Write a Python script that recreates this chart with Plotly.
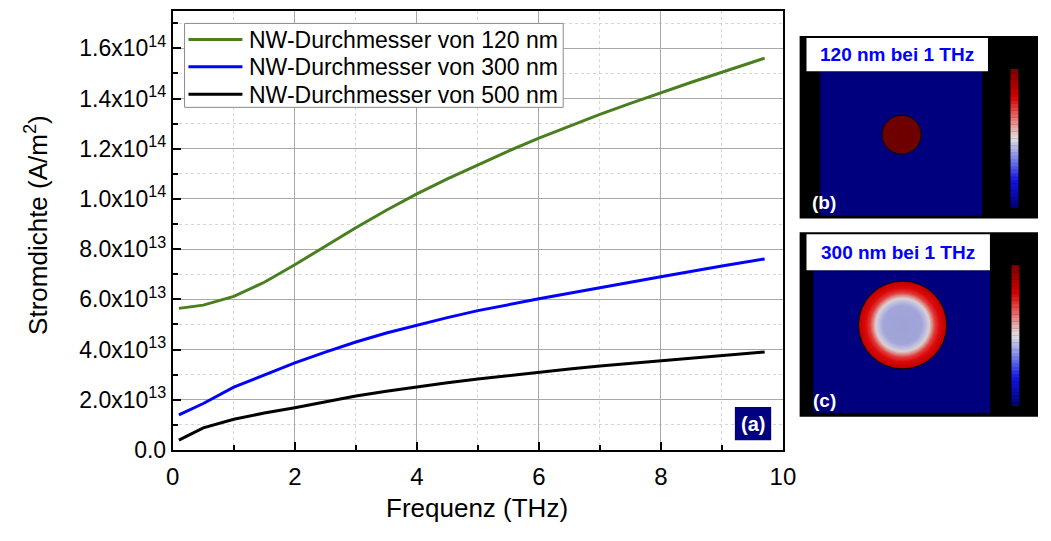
import plotly.graph_objects as go

W, H = 1051, 541

# ---------------- data ----------------
freq = [0.1, 0.5, 1.0, 1.5, 2.0, 2.5, 3.0, 3.5, 4.0, 4.5, 5.0, 5.5, 6.0, 6.5, 7.0, 7.5, 8.0, 8.5, 9.0, 9.7]
j_120 = [5.64e13, 5.77e13, 6.12e13, 6.68e13, 7.38e13, 8.12e13, 8.85e13, 9.55e13, 1.02e14, 1.080e14,
         1.137e14, 1.191e14, 1.242e14, 1.291e14, 1.337e14, 1.381e14, 1.424e14, 1.465e14, 1.505e14, 1.561e14]
j_300 = [1.40e13, 1.85e13, 2.50e13, 3.00e13, 3.47e13, 3.90e13, 4.30e13, 4.66e13, 4.97e13, 5.27e13,
         5.55e13, 5.80e13, 6.02e13, 6.24e13, 6.47e13, 6.68e13, 6.90e13, 7.12e13, 7.33e13, 7.61e13]
j_500 = [0.39e13, 0.88e13, 1.22e13, 1.47e13, 1.68e13, 1.93e13, 2.15e13, 2.34e13, 2.52e13, 2.68e13,
         2.83e13, 2.97e13, 3.10e13, 3.22e13, 3.34e13, 3.44e13, 3.55e13, 3.65e13, 3.74e13, 3.90e13]

series_names = ["NW-Durchmesser von 120 nm", "NW-Durchmesser von 300 nm", "NW-Durchmesser von 500 nm"]
series_colors = ["#4a7f1f", "#0000ff", "#000000"]

y_tickvals = [0, 2e13, 4e13, 6e13, 8e13, 1e14, 1.2e14, 1.4e14, 1.6e14]
y_ticktext = ["0.0", "2.0x10<sup>13</sup>", "4.0x10<sup>13</sup>", "6.0x10<sup>13</sup>",
              "8.0x10<sup>13</sup>", "1.0x10<sup>14</sup>", "1.2x10<sup>14</sup>",
              "1.4x10<sup>14</sup>", "1.6x10<sup>14</sup>"]
x_tickvals = [0, 2, 4, 6, 8, 10]

FONT = "Liberation Sans, Arial, sans-serif"

fig = go.Figure()
for name, col, ys in zip(series_names, series_colors, [j_120, j_300, j_500]):
    fig.add_trace(go.Scatter(x=freq, y=ys, mode="lines", name=name, showlegend=False,
                             line=dict(color=col, width=3)))

def px(x):
    return x / W

def py(y):
    return 1 - y / H

shapes = []
annotations = []

def note(x, y, text, size, color="black", angle=0, xanchor="center"):
    annotations.append(dict(xref="paper", yref="paper", x=px(x), y=py(y), text=text, textangle=angle,
                            xanchor=xanchor, yanchor="middle", showarrow=False,
                            font=dict(family=FONT, size=size, color=color)))

# legend (drawn as a framed key, Origin style)
shapes.append(dict(type="rect", xref="paper", yref="paper", x0=px(181), x1=px(567), y0=py(110), y1=py(24),
                   fillcolor="white", line=dict(color="#8c8c8c", width=1), layer="above"))
for k, (name, col) in enumerate(zip(series_names, series_colors)):
    yy = 40.5 + 28 * k
    shapes.append(dict(type="line", xref="paper", yref="paper", x0=px(185), x1=px(240), y0=py(yy), y1=py(yy),
                       line=dict(color=col, width=3), layer="above"))
    note(245, yy + 0.5, name, 23, xanchor="left")

# (a) label
shapes.append(dict(type="rect", xref="paper", yref="paper", x0=px(742), x1=px(779), y0=py(451), y1=py(417),
                   fillcolor="#000080", line=dict(width=0), layer="above"))
note(760.5, 434, "<b>(a)</b>", 20, "white")

# axis titles
note(30, 230, "Stromdichte (A/m<sup>2</sup>)", 26, angle=-90)
note(479, 521, "Frequenz (THz)", 26)

# ---------------- inset panels (decorative images) ----------------
def lerp(c1, c2, t):
    return tuple(int(round(a + (b - a) * t)) for a, b in zip(c1, c2))

def rgb(c):
    return "rgb(%d,%d,%d)" % c

cbar_stops = [(0.0, (0, 0, 120)), (0.2, (20, 20, 230)), (0.35, (120, 130, 235)), (0.5, (225, 225, 225)),
              (0.65, (235, 110, 110)), (0.8, (215, 0, 0)), (1.0, (120, 0, 0))]

def cmap(t):
    for (t0, c0), (t1, c1) in zip(cbar_stops[:-1], cbar_stops[1:]):
        if t <= t1:
            return lerp(c0, c1, (t - t0) / (t1 - t0))
    return cbar_stops[-1][1]

def panel(top, bottom, box_x1, box_bottom, sq_x0, sq_x1, sq_bottom, cx, cy, r, cb_x0, cb_top, cb_bottom,
          title, tag, radial):
    shapes.append(dict(type="rect", xref="paper", yref="paper", x0=px(808), x1=px(1051), y0=py(bottom), y1=py(top),
                       fillcolor="black", line=dict(width=0)))
    shapes.append(dict(type="rect", xref="paper", yref="paper", x0=px(sq_x0), x1=px(sq_x1), y0=py(sq_bottom),
                       y1=py(box_bottom), fillcolor="#00007f", line=dict(width=0)))
    shapes.append(dict(type="rect", xref="paper", yref="paper", x0=px(815), x1=px(box_x1), y0=py(box_bottom),
                       y1=py(top + 2), fillcolor="white", line=dict(width=0)))
    note((815 + box_x1) / 2, (top + 2 + box_bottom) / 2, "<b>" + title + "</b>", 19, "#0000ff")
    if not radial:
        shapes.append(dict(type="circle", xref="paper", yref="paper", x0=px(cx - r), x1=px(cx + r),
                           y0=py(cy + r), y1=py(cy - r), fillcolor="#6e0000", line=dict(color="black", width=1)))
    else:
        stops = [(1.0, (190, 0, 0)), (0.85, (220, 10, 10)), (0.75, (225, 60, 60)), (0.62, (220, 210, 210)),
                 (0.55, (190, 190, 225)), (0.45, (162, 165, 215)), (0.0, (158, 162, 214))]
        n = 40
        for i in range(n):
            f = 1 - i / n
            col = stops[-1][1]
            for (f0, c0), (f1, c1) in zip(stops[:-1], stops[1:]):
                if f1 <= f <= f0:
                    col = lerp(c0, c1, (f0 - f) / (f0 - f1))
                    break
            rr = r * f
            shapes.append(dict(type="circle", xref="paper", yref="paper", x0=px(cx - rr), x1=px(cx + rr),
                               y0=py(cy + rr), y1=py(cy - rr), fillcolor=rgb(col),
                               line=dict(color="black" if i == 0 else rgb(col), width=1 if i == 0 else 0)))
    m = 40
    h = (cb_bottom - cb_top) / m
    for i in range(m):
        t = (i + 0.5) / m
        yb = cb_bottom - i * h
        shapes.append(dict(type="rect", xref="paper", yref="paper", x0=px(cb_x0), x1=px(cb_x0 + 8),
                           y0=py(yb), y1=py(yb - h - 0.3), fillcolor=rgb(cmap(t)), line=dict(width=0)))
    note(833, bottom - 17, "<b>" + tag + "</b>", 19, "white")

panel(37, 224, 1000, 73, 829, 994, 221, 912, 138, 20, 1023, 71, 213, "120 nm bei 1 THz", "(b)", False)
panel(238, 427, 1002, 277, 822, 1002, 423, 913, 333, 45, 1024, 272, 416, "300 nm bei 1 THz", "(c)", True)

fig.update_layout(
    width=W, height=H,
    margin=dict(l=0, r=0, t=0, b=0),
    paper_bgcolor="white", plot_bgcolor="white",
    font=dict(family=FONT, color="black"),
    showlegend=False,
    shapes=shapes,
    annotations=annotations,
    xaxis=dict(domain=[px(169), px(791)], range=[0, 10], tickvals=x_tickvals,
               ticks="inside", ticklen=8, tickwidth=1.5, tickcolor="black",
               showline=True, linecolor="black", linewidth=2, mirror=True,
               showgrid=True, gridcolor="#a8a8a8", gridwidth=1, zeroline=False,
               ticklabelstandoff=4,
               tickfont=dict(family=FONT, size=24, color="black"),
               minor=dict(dtick=1, tick0=0, ticks="inside", ticklen=5, tickwidth=1.5, tickcolor="black",
                          showgrid=True, gridcolor="#d6d6d6", griddash="dot", gridwidth=1)),
    yaxis=dict(domain=[py(461), py(11)], range=[0, 1.75e14], tickvals=y_tickvals, ticktext=y_ticktext,
               ticks="inside", ticklen=8, tickwidth=1.5, tickcolor="black",
               showline=True, linecolor="black", linewidth=2, mirror=True,
               showgrid=True, gridcolor="#a8a8a8", gridwidth=1, zeroline=False,
               tickfont=dict(family=FONT, size=23, color="black"),
               minor=dict(dtick=1e13, tick0=0, ticks="inside", ticklen=5, tickwidth=1.5, tickcolor="black",
                          showgrid=True, gridcolor="#d6d6d6", griddash="dot", gridwidth=1)),
)

fig.write_html("out.html")
